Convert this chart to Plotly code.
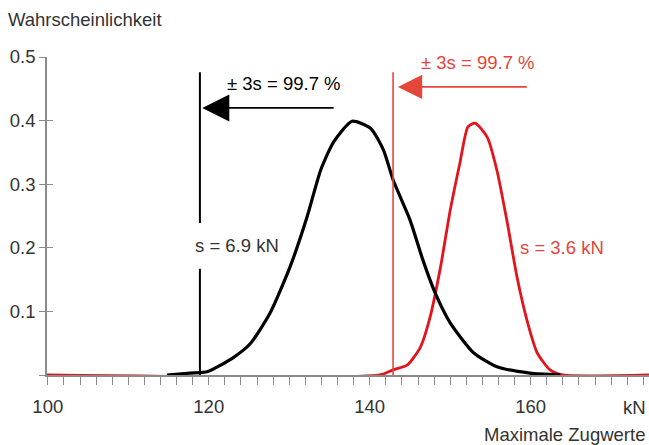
import plotly.graph_objects as go

# ---- data ----
black_x = [114.8, 117.7, 119.8, 123.0, 125.2, 127.6, 130.1, 132.2, 133.9, 135.5, 137.8,
           140.1, 141.7, 142.9, 145.0, 146.6, 148.1, 150.0, 152.9, 155.8, 159.9, 163.7]
black_y = [0.0, 0.003, 0.005, 0.027, 0.05, 0.097, 0.17, 0.248, 0.322, 0.366, 0.399,
           0.388, 0.354, 0.307, 0.244, 0.181, 0.130, 0.082, 0.035, 0.013, 0.003, 0.0]

red_x = [99.9, 141.3, 142.9, 144.7, 146.3, 147.5, 148.8, 150.0, 151.2, 152.2, 153.1,
         154.6, 155.8, 157.1, 158.3, 159.6, 160.8, 162.4, 164.0, 174.7]
red_y = [0.0, 0.0, 0.008, 0.016, 0.044, 0.091, 0.17, 0.259, 0.333, 0.39, 0.396,
         0.374, 0.322, 0.239, 0.154, 0.083, 0.035, 0.008, 0.0, 0.0]

black_limit = 118.9     # -3s limit of black distribution
red_limit = 142.9       # -3s limit of red distribution
limit_top = 0.476
black_gap = [0.167, 0.239]
black_arrow = {"head": 119.2, "tail": 135.7, "y": 0.42}
red_arrow = {"head": 143.5, "tail": 159.7, "y": 0.453}

x_major = [100, 120, 140, 160]
x_minor_step = 2
y_ticks = [0.1, 0.2, 0.3, 0.4, 0.5]

RED = "#e3141c"
RED_LIGHT = "#e5463a"
TXT = "#333333"
GREY = "#8a8a8a"
FONT = "Liberation Sans, Arial, sans-serif"
FS = 18.5

fig = go.Figure()
fig.add_trace(go.Scatter(x=red_x, y=red_y, mode="lines", line=dict(color=RED, width=2.8, shape="spline", smoothing=0.6),
                         cliponaxis=False, hoverinfo="skip"))
fig.add_trace(go.Scatter(x=black_x, y=black_y, mode="lines", line=dict(color="black", width=3.2, shape="spline", smoothing=0.6),
                         cliponaxis=False, hoverinfo="skip"))
# dummy trace for second y axis (inside ticks)
fig.add_trace(go.Scatter(x=[None], y=[None], yaxis="y2", hoverinfo="skip"))

shapes = [
    dict(type="line", xref="x", yref="y", x0=black_limit, x1=black_limit, y0=0, y1=black_gap[0],
         line=dict(color="black", width=2)),
    dict(type="line", xref="x", yref="y", x0=black_limit, x1=black_limit, y0=black_gap[1], y1=limit_top,
         line=dict(color="black", width=2)),
    dict(type="line", xref="x", yref="y", x0=red_limit, x1=red_limit, y0=0, y1=limit_top,
         line=dict(color=RED_LIGHT, width=1.6)),
]

ticktext = [str(v) if v in x_major else "" for v in range(100, 175, x_minor_step)]

annotations = [
    dict(x=black_arrow["head"], y=black_arrow["y"], ax=black_arrow["tail"], ay=black_arrow["y"],
         xref="x", yref="y", axref="x", ayref="y", showarrow=True, arrowhead=2, arrowsize=3.0,
         arrowwidth=1.8, arrowcolor="black", text=""),
    dict(x=red_arrow["head"], y=red_arrow["y"], ax=red_arrow["tail"], ay=red_arrow["y"],
         xref="x", yref="y", axref="x", ayref="y", showarrow=True, arrowhead=2, arrowsize=2.7,
         arrowwidth=1.8, arrowcolor=RED_LIGHT, text=""),
    dict(x=129.4, y=0.459, xref="x", yref="y", text="± 3s = 99.7 %", showarrow=False,
         font=dict(size=FS, color="black", family=FONT)),
    dict(x=153.5, y=0.491, xref="x", yref="y", text="± 3s = 99.7 %", showarrow=False,
         font=dict(size=FS, color=RED_LIGHT, family=FONT)),
    dict(x=123.5, y=0.203, xref="x", yref="y", text="s = 6.9 kN", showarrow=False,
         font=dict(size=FS, color=TXT, family=FONT)),
    dict(x=163.9, y=0.200, xref="x", yref="y", text="s = 3.6 kN", showarrow=False,
         font=dict(size=FS, color=RED_LIGHT, family=FONT)),
    dict(x=6, y=20, xref="paper", yref="paper", text="Wahrscheinlichkeit", showarrow=False,
         font=dict(size=FS, color=TXT, family=FONT), xanchor="left", yanchor="middle"),
    dict(x=647, y=434, xref="paper", yref="paper", text="Maximale Zugwerte", showarrow=False,
         font=dict(size=FS, color=TXT, family=FONT), xanchor="right", yanchor="middle"),
    dict(x=634, y=407, xref="paper", yref="paper", text="kN", showarrow=False,
         font=dict(size=FS, color=TXT, family=FONT), xanchor="center", yanchor="middle"),
]
# convert pixel-positioned paper annotations to paper fractions
W, H = 649, 445
L, R, T, B = 47, 0, 57, 70
pw, ph = W - L - R, H - T - B
for a in annotations:
    if a.get("xref") == "paper":
        a["x"] = (a["x"] - L) / pw
        a["y"] = 1 - (a["y"] - T) / ph

fig.update_layout(
    width=W, height=H, margin=dict(l=L, r=R, t=T, b=B, pad=0),
    paper_bgcolor="white", plot_bgcolor="white", showlegend=False,
    font=dict(family=FONT, size=FS, color=TXT),
    shapes=shapes, annotations=annotations,
    xaxis=dict(range=[99.9, 174.7], showgrid=False, zeroline=False, showline=True, linecolor=GREY,
               linewidth=1.5, ticks="outside", ticklen=8, tickwidth=1.3, tickcolor=GREY,
               tickmode="array", tickvals=list(range(100, 175, x_minor_step)), ticktext=ticktext,
               tickfont=dict(size=FS, color=TXT, family=FONT), fixedrange=True, layer="below traces",
               ticklabelstandoff=6),
    yaxis=dict(range=[0, 0.5], showgrid=False, zeroline=False, showline=True, linecolor=GREY,
               linewidth=1.5, ticks="outside", ticklen=6, tickwidth=1.3, tickcolor=GREY,
               tickmode="array", tickvals=[0] + y_ticks, ticktext=[""] + [f"{v:.1f}" for v in y_ticks],
               tickfont=dict(size=FS, color=TXT, family=FONT), fixedrange=True, layer="below traces"),
    yaxis2=dict(range=[0, 0.5], overlaying="y", side="left", anchor="x", showgrid=False, zeroline=False,
                showline=False, ticks="inside", ticklen=6, tickwidth=1.3, tickcolor=GREY,
                tickmode="array", tickvals=y_ticks, showticklabels=False, fixedrange=True),
)

fig.write_html("out.html")
